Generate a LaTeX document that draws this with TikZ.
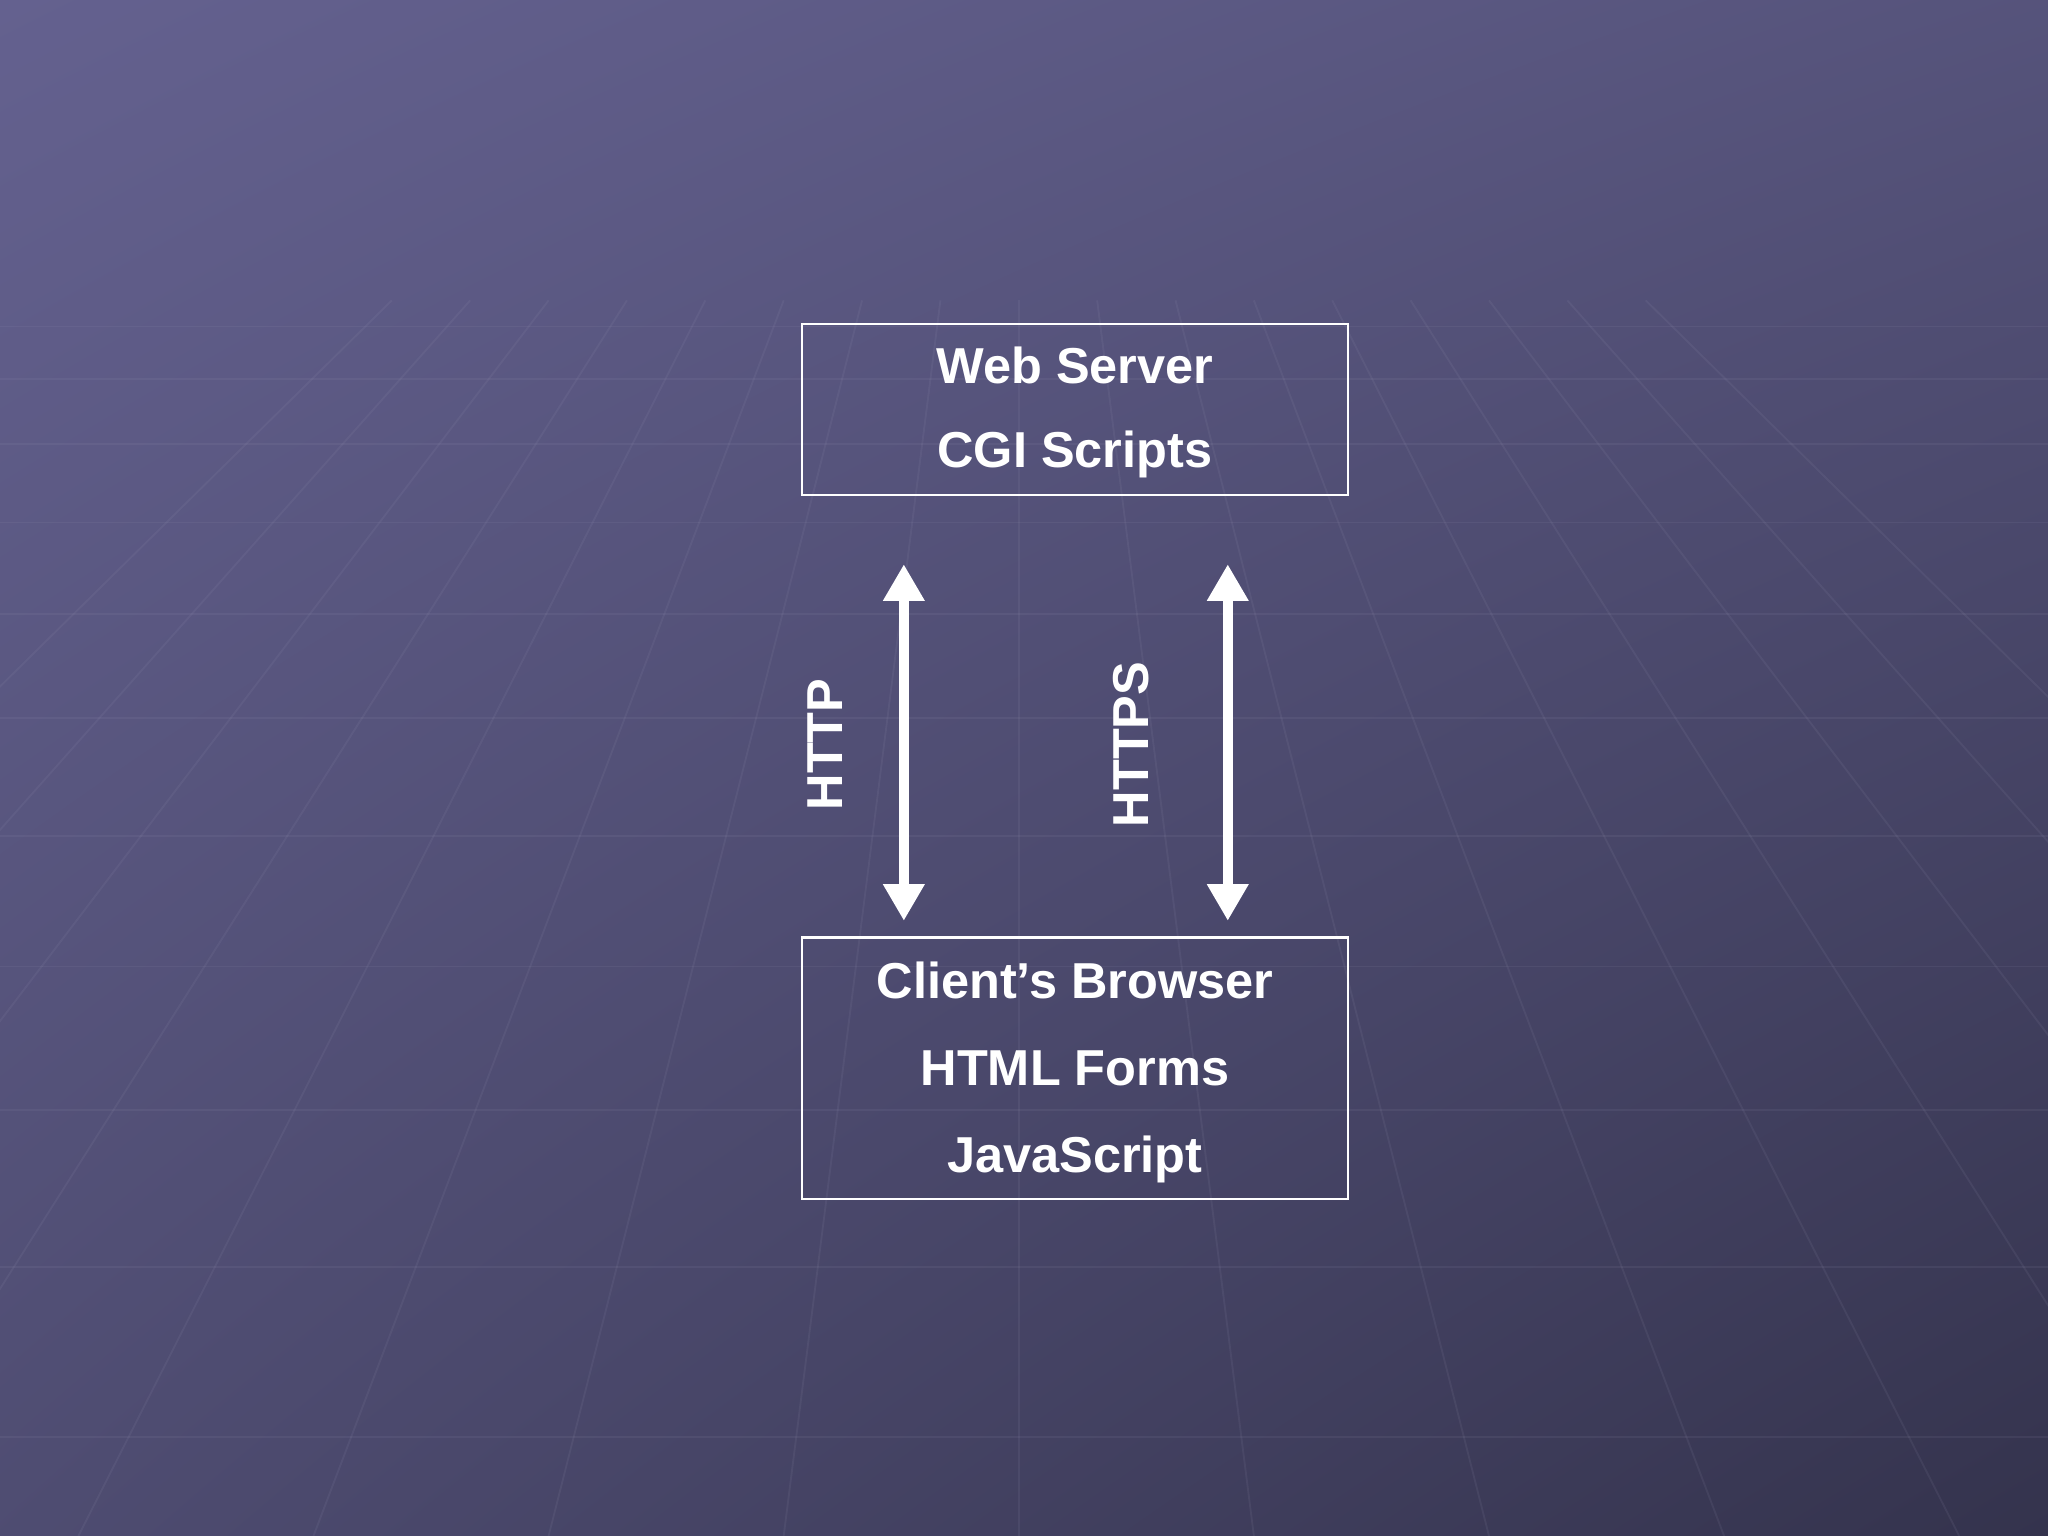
\documentclass[tikz,border=0pt]{standalone}
\usepackage{fontspec}
\setmainfont{Liberation Sans}
\usetikzlibrary{arrows.meta,shadings}
\definecolor{bgA}{HTML}{64618F}
\definecolor{bgB}{HTML}{34334D}
\tikzset{
 box/.style={draw=white,line width=0.6pt,minimum width=4.18cm,inner sep=0pt},
 lbl/.style={text=white,font=\fontsize{11}{13}\selectfont\bfseries},
 dbl/.style={white,line width=0.08cm,{Triangle[width=0.3cm,length=0.28cm]}-{Triangle[width=0.3cm,length=0.28cm]}}
}
\begin{document}
\begin{tikzpicture}[x=1cm,y=-1cm]
\useasboundingbox (0,0) rectangle (15.68,11.76);
\shade[upper left=bgA,upper right=bgA!70!bgB,lower left=bgA!55!bgB,lower right=bgB] (0,0) rectangle (15.68,11.76);
\begin{scope}[opacity=0.1,draw=bgA!60!white]
\foreach \i in {-8,...,8}{\draw (7.8+\i*0.6,2.3) -- (7.8+\i*1.8,11.76);}
\foreach \y in {2.5,2.9,3.4,4.0,4.7,5.5,6.4,7.4,8.5,9.7,11.0}{\draw (0,\y) -- (15.68,\y);}
\end{scope}
\node[box,minimum height=1.31cm] (srv) at (8.23,3.135) {};
\node[lbl] (t1) at (8.23,2.80) {Web Server};
\node[lbl] (t2) at (8.23,3.48) {CGI Scripts};
\node[box,minimum height=2.0cm] (cli) at (8.23,8.18) {};
\node[lbl] (b1) at (8.23,7.51) {Client’s Browser};
\node[lbl] (b2) at (8.23,8.18) {HTML Forms};
\node[lbl] (b3) at (8.23,8.88) {JavaScript};
\coordinate (a1t) at (6.92,4.32); \coordinate (a1b) at (6.92,7.05);
\coordinate (a2t) at (9.40,4.32); \coordinate (a2b) at (9.40,7.05);
\draw[dbl] (a1t) -- (a1b);
\draw[dbl] (a2t) -- (a2b);
\node[lbl,rotate=90] (h1) at (6.32,5.70) {HTTP};
\node[lbl,rotate=90] (h2) at (8.66,5.70) {HTTPS};
\end{tikzpicture}
\end{document}
